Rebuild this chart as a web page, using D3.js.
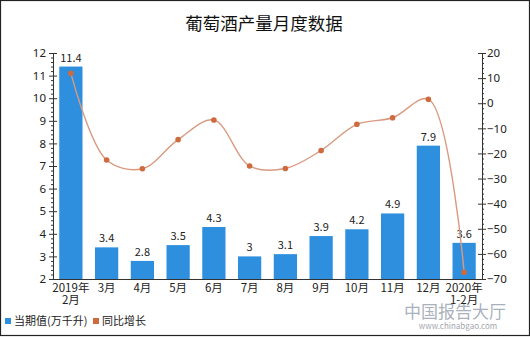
<!DOCTYPE html>
<html>
<head>
<meta charset="utf-8">
<script src="https://cdn.jsdelivr.net/npm/d3@7"></script>
<style>
  html, body { margin: 0; padding: 0; background: #fff; }
  svg { display: block; font-family: "Noto Sans CJK SC", "Noto Sans", sans-serif; }
</style>
</head>
<body>
<svg id="chart" width="530" height="337"></svg>
<script>
// Monthly wine output (10k kilolitres) and year-on-year growth (%)
const categories = ["2019年\n2月", "3月", "4月", "5月", "6月", "7月", "8月", "9月", "10月", "11月", "12月", "2020年\n1-2月"];
const output = [11.4, 3.4, 2.8, 3.5, 4.3, 3, 3.1, 3.9, 4.2, 4.9, 7.9, 3.6];
const growth = [11.9, -22.6, -26.1, -14.5, -6.7, -25, -26, -18.8, -8.4, -5.8, 1.6, -67.3];
const leftTicks = [2, 3, 4, 5, 6, 7, 8, 9, 10, 11, 12];
const rightTicks = [20, 10, 0, -10, -20, -30, -40, -50, -60, -70];
const seriesNames = ["当期值(万千升)", "同比增长"];

const barColor = "#2e8fde";
const lineColor = "#d99a80";
const dotColor = "#cf6a3f";
const textColor = "#222";

const svg = d3.select("#chart");
const W = 530, H = 337;
const plot = { left: 53, right: 482, top: 53, bottom: 279 };

// Frame
svg.append("rect").attr("x", 0.5).attr("y", 0.5).attr("width", W - 1).attr("height", H - 2)
  .attr("fill", "#fff").attr("stroke", "#222").attr("stroke-width", 1.2);

// Title
svg.append("text").attr("x", 264).attr("y", 30).attr("text-anchor", "middle")
  .attr("font-size", 17.5).attr("fill", "#111").text("葡萄酒产量月度数据");

// Site mark in the lower right corner
const wm = svg.append("g").attr("opacity", 0.7);
wm.append("text").attr("x", 455).attr("y", 318).attr("text-anchor", "middle")
  .attr("font-size", 17).attr("fill", "#8791a3").text("中国报告大厅");
wm.append("text").attr("x", 458).attr("y", 329).attr("text-anchor", "middle")
  .attr("font-size", 8).attr("fill", "#7a808a").text("www.chinabgao.com");

const x = d3.scaleBand().domain(d3.range(categories.length))
  .range([plot.left, plot.right]).paddingInner(0.35).paddingOuter(0.175);
const yL = d3.scaleLinear().domain([2, 12]).range([plot.bottom, plot.top]);
const yR = d3.scaleLinear().domain([-70, 20]).range([plot.bottom, plot.top]);

// Bars
svg.append("g").selectAll("rect").data(output).join("rect")
  .attr("x", (d, i) => x(i)).attr("width", x.bandwidth())
  .attr("y", d => yL(d)).attr("height", d => yL(2) - yL(d))
  .attr("fill", barColor);

// Bar value labels
svg.append("g").selectAll("text").data(output).join("text")
  .attr("x", (d, i) => x(i) + x.bandwidth() / 2).attr("y", d => yL(d) - 5)
  .attr("text-anchor", "middle").attr("font-size", 11).attr("fill", textColor)
  .text(d => d);

// Growth line
const cx = i => x(i) + x.bandwidth() / 2;
const line = d3.line().x((d, i) => cx(i)).y(d => yR(d)).curve(d3.curveCatmullRom.alpha(0.5));
svg.append("path").datum(growth).attr("d", line)
  .attr("fill", "none").attr("stroke", lineColor).attr("stroke-width", 1.4);
svg.append("g").selectAll("circle").data(growth).join("circle")
  .attr("cx", (d, i) => cx(i)).attr("cy", d => yR(d)).attr("r", 2.8)
  .attr("fill", dotColor);

// Left axis
const axL = svg.append("g").attr("transform", `translate(${plot.left},0)`);
axL.append("g").call(d3.axisLeft(yL).tickValues(d3.range(2, 12.001, 0.2).filter(v => Math.abs(v - Math.round(v)) > 0.01)).tickSize(2).tickFormat(""))
  .call(g => g.select(".domain").remove());
axL.append("g").call(d3.axisLeft(yL).tickValues(leftTicks).tickSizeOuter(0).tickSize(4).tickPadding(3))
  .call(g => g.selectAll(".tick line").attr("x2", 4).attr("x1", -4))
  .call(g => g.selectAll("text").attr("font-size", 11.5).attr("fill", textColor).attr("font-family", "Noto Sans, sans-serif"));

// Right axis
const axR = svg.append("g").attr("transform", `translate(${plot.right},0)`);
axR.append("g").call(d3.axisRight(yR).tickValues(d3.range(-70, 20.001, 2).filter(v => v % 10 !== 0)).tickSize(2).tickFormat(""))
  .call(g => g.select(".domain").remove());
axR.append("g").call(d3.axisRight(yR).tickValues(rightTicks).tickSizeOuter(0).tickSize(4).tickPadding(1))
  .call(g => g.selectAll(".tick line").attr("x1", -4).attr("x2", 4))
  .call(g => g.selectAll("text").attr("font-size", 11.5).attr("fill", textColor).attr("font-family", "Noto Sans, sans-serif"));

svg.selectAll(".domain, .tick line").attr("stroke", "#333");

// Category axis
svg.append("line").attr("x1", plot.left).attr("x2", plot.right)
  .attr("y1", plot.bottom + 0.5).attr("y2", plot.bottom + 0.5).attr("stroke", "#333");
const catLabels = svg.append("g").selectAll("text").data(categories).join("text")
  .attr("x", (d, i) => cx(i)).attr("y", 292)
  .attr("text-anchor", "middle").attr("font-size", 11.5).attr("fill", textColor);
catLabels.selectAll("tspan").data(d => d.split("\n")).join("tspan")
  .attr("x", function () { return d3.select(this.parentNode).attr("x"); })
  .attr("dy", (d, j) => j === 0 ? 0 : 11.5).text(d => d);

// Legend
const legend = svg.append("g").attr("font-size", 11).attr("fill", textColor);
const legendItems = [
  { name: seriesNames[0], color: barColor, x: 5 },
  { name: seriesNames[1], color: dotColor, x: 93 }
];
legendItems.forEach(it => {
  legend.append("rect").attr("x", it.x).attr("y", 318).attr("width", 6).attr("height", 6).attr("fill", it.color);
  legend.append("text").attr("x", it.x + 9).attr("y", 325).text(it.name);
});
</script>
</body>
</html>
